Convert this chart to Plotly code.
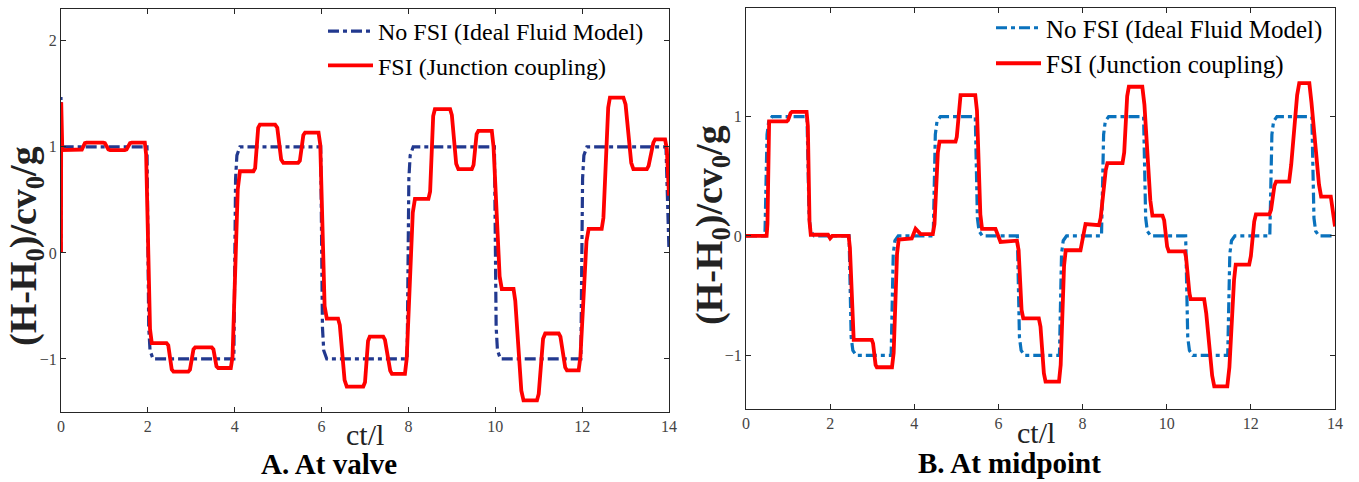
import plotly.graph_objects as go

# ---------------- data ----------------
# Panel A: at valve
valve_ideal_t = [0, 0, 0.01,
                 1.98, 2.02, 2.05, 2.12, 3.98, 4.02, 4.05, 4.12,
                 5.98, 6.02, 6.05, 6.12, 7.97, 8.01, 8.04, 8.11,
                 9.98, 10.02, 10.05, 10.12, 11.97, 12.01, 12.04, 12.11,
                 13.93, 14.0]
valve_ideal_h = [0, 1.47, 1.0,
                 1, -0.7, -0.92, -1, -1, 0.7, 0.92, 1,
                 1, -0.7, -0.92, -1, -1, 0.7, 0.92, 1,
                 1, -0.7, -0.92, -1, -1, 0.7, 0.92, 1,
                 1, 0.02]

valve_fsi_t = [0, 0.005, 0.03,
               0.44, 0.48, 0.55, 0.59, 0.97, 1.01, 1.09, 1.13,
               1.47, 1.51, 1.59, 1.63, 1.93, 1.96, 2.05, 2.09,
               2.43, 2.47, 2.55, 2.59, 2.93, 2.97, 3.05, 3.09,
               3.47, 3.51, 3.58, 3.62, 3.91, 3.95, 4.07, 4.12,
               4.43, 4.47, 4.54, 4.58, 4.93, 4.98, 5.07, 5.12,
               5.46, 5.50, 5.58, 5.62, 5.93, 5.97, 6.07, 6.12,
               6.38, 6.42, 6.53, 6.58, 6.96, 7.00, 7.07, 7.11,
               7.42, 7.46, 7.58, 7.62, 7.92, 7.96, 8.10, 8.15,
               8.46, 8.50, 8.57, 8.61, 8.96, 9.00, 9.10, 9.15,
               9.46, 9.50, 9.57, 9.61, 9.92, 9.96, 10.10, 10.15,
               10.42, 10.46, 10.60, 10.65, 10.96, 11.00, 11.10, 11.15,
               11.46, 11.50, 11.61, 11.65, 11.92, 11.96, 12.10, 12.15,
               12.45, 12.49, 12.60, 12.64, 12.95, 13.00, 13.13, 13.18,
               13.49, 13.53, 13.64, 13.68, 13.91, 13.95, 14.0]
valve_fsi_h = [0, 1.42, 0.97,
               0.97, 0.975, 1.035, 1.04, 1.04, 1.035, 0.975, 0.97,
               0.97, 0.975, 1.035, 1.04, 1.04, 0.93, -0.72, -0.85,
               -0.85, -0.87, -1.10, -1.12, -1.12, -1.10, -0.91, -0.89,
               -0.89, -0.91, -1.07, -1.085, -1.085, -0.98, 0.60, 0.77,
               0.77, 0.80, 1.18, 1.21, 1.21, 1.18, 0.88, 0.85,
               0.85, 0.87, 1.11, 1.135, 1.135, 1.02, -0.50, -0.62,
               -0.62, -0.68, -1.20, -1.26, -1.26, -1.22, -0.83, -0.79,
               -0.79, -0.82, -1.11, -1.14, -1.14, -1.00, 0.38, 0.51,
               0.51, 0.58, 1.29, 1.355, 1.355, 1.30, 0.84, 0.79,
               0.79, 0.83, 1.12, 1.15, 1.15, 1.00, -0.22, -0.34,
               -0.34, -0.45, -1.30, -1.39, -1.39, -1.33, -0.81, -0.76,
               -0.76, -0.79, -1.08, -1.107, -1.107, -0.98, 0.11, 0.226,
               0.226, 0.33, 1.37, 1.465, 1.465, 1.40, 0.85, 0.79,
               0.79, 0.82, 1.04, 1.07, 1.07, 0.98, 0.54]

# Panel B: at midpoint
mid_ideal_t = [0,
               0.45, 0.50, 0.54, 0.62, 1.45, 1.50, 1.54, 1.62,
               2.45, 2.50, 2.54, 2.62, 3.45, 3.50, 3.54, 3.62,
               4.45, 4.50, 4.54, 4.62, 5.45, 5.50, 5.54, 5.62,
               6.45, 6.50, 6.54, 6.62, 7.45, 7.50, 7.54, 7.62,
               8.45, 8.50, 8.54, 8.62, 9.45, 9.50, 9.54, 9.62,
               10.45, 10.50, 10.54, 10.62, 11.45, 11.50, 11.54, 11.62,
               12.45, 12.50, 12.54, 12.62, 13.45, 13.50, 13.54, 13.62,
               14.0]
mid_ideal_h = [0,
               0, 0.85, 0.96, 1, 1, 0.15, 0.04, 0,
               0, -0.85, -0.96, -1, -1, -0.15, -0.04, 0,
               0, 0.85, 0.96, 1, 1, 0.15, 0.04, 0,
               0, -0.85, -0.96, -1, -1, -0.15, -0.04, 0,
               0, 0.85, 0.96, 1, 1, 0.15, 0.04, 0,
               0, -0.85, -0.96, -1, -1, -0.15, -0.04, 0,
               0, 0.85, 0.96, 1, 1, 0.15, 0.04, 0,
               0]

mid_fsi_t = [0, 0.49, 0.51, 0.53, 0.55,
             0.97, 1.00, 1.06, 1.09, 1.44, 1.47, 1.51, 1.54,
             1.95, 2.00, 2.05, 2.44, 2.47, 2.53, 2.56,
             2.99, 3.02, 3.08, 3.11, 3.47, 3.51, 3.59, 3.63,
             3.94, 4.03, 4.15, 4.44, 4.48, 4.56, 4.60,
             4.98, 5.01, 5.07, 5.10, 5.45, 5.49, 5.57, 5.61,
             5.93, 6.05, 6.44, 6.48, 6.55, 6.59,
             6.96, 7.00, 7.08, 7.12, 7.44, 7.48, 7.56, 7.60,
             7.95, 8.07, 8.39, 8.43, 8.55, 8.59,
             8.95, 8.99, 9.06, 9.10, 9.42, 9.47, 9.61, 9.66,
             9.90, 9.94, 10.01, 10.05, 10.43, 10.46, 10.54, 10.57,
             10.89, 10.94, 11.08, 11.13, 11.44, 11.49, 11.60, 11.64,
             11.96, 12.00, 12.08, 12.12, 12.44, 12.48, 12.56, 12.60,
             12.91, 12.96, 13.10, 13.15, 13.39, 13.44, 13.62, 13.67,
             13.90, 14.0]
mid_fsi_h = [0, 0, 0.10, 0.88, 0.96,
             0.96, 0.97, 1.03, 1.04, 1.04, 0.92, 0.12, 0.01,
             0.01, -0.02, 0.0, 0.0, -0.10, -0.78, -0.87,
             -0.87, -0.90, -1.08, -1.10, -1.10, -0.98, -0.15, -0.03,
             -0.02, 0.06, 0.015, 0.015, 0.10, 0.70, 0.79,
             0.79, 0.83, 1.14, 1.18, 1.18, 1.05, 0.18, 0.06,
             0.06, -0.05, -0.04, -0.12, -0.62, -0.69,
             -0.69, -0.76, -1.15, -1.22, -1.22, -1.08, -0.25, -0.12,
             -0.12, 0.10, 0.09, 0.15, 0.55, 0.61,
             0.61, 0.70, 1.17, 1.25, 1.25, 1.10, 0.30, 0.17,
             0.17, 0.13, -0.09, -0.13, -0.13, -0.18, -0.48, -0.53,
             -0.53, -0.65, -1.17, -1.26, -1.26, -1.10, -0.37, -0.24,
             -0.24, -0.17, 0.12, 0.18, 0.18, 0.22, 0.42, 0.455,
             0.455, 0.60, 1.18, 1.28, 1.28, 1.12, 0.43, 0.33,
             0.33, 0.08]

x_ticks = [0, 2, 4, 6, 8, 10, 12, 14]
y_ticks_valve = [-1, 0, 1, 2]
y_ticks_mid = [-1, 0, 1]

name_ideal = "No FSI (Ideal Fluid Model)"
name_fsi = "FSI (Junction coupling)"
ylabel = "<b>(H-H<sub>0</sub>)/cv<sub>0</sub>/g</b>"
xlabel = "ct/l"
captions = ["<b>A. At valve</b>", "<b>B. At midpoint</b>"]

# ---------------- figure ----------------
W, H = 1359, 482
SERIF = "Liberation Serif, Times New Roman, serif"
RED = "#ff0000"
NAVY = "#22398f"
MBLUE = "#0a72bd"
DASH = "11px,4px,4px,4px"

fig = go.Figure()
fig.add_trace(go.Scatter(x=valve_ideal_t, y=valve_ideal_h, mode="lines", name=name_ideal,
                         line=dict(color=NAVY, width=3.2, dash=DASH),
                         xaxis="x", yaxis="y", legend="legend"))
fig.add_trace(go.Scatter(x=valve_fsi_t, y=valve_fsi_h, mode="lines", name=name_fsi,
                         line=dict(color=RED, width=3.8),
                         xaxis="x", yaxis="y", legend="legend"))
fig.add_trace(go.Scatter(x=mid_ideal_t, y=mid_ideal_h, mode="lines", name=name_ideal,
                         line=dict(color=MBLUE, width=3.2, dash=DASH),
                         xaxis="x2", yaxis="y2", legend="legend2"))
fig.add_trace(go.Scatter(x=mid_fsi_t, y=mid_fsi_h, mode="lines", name=name_fsi,
                         line=dict(color=RED, width=3.8),
                         xaxis="x2", yaxis="y2", legend="legend2"))

axis_common = dict(showline=True, linecolor="#262626", linewidth=1, mirror="ticks",
                   ticks="inside", ticklen=5, tickcolor="#262626", showgrid=False,
                   zeroline=False, automargin=False,
                   tickfont=dict(family=SERIF, size=16, color="#444444"))

fig.update_layout(
    width=W, height=H,
    margin=dict(l=0, r=0, t=0, b=0),
    paper_bgcolor="white", plot_bgcolor="white",
    xaxis=dict(domain=[61 / W, 669 / W], range=[0, 14], tickvals=x_ticks, anchor="y", **axis_common),
    yaxis=dict(domain=[1 - 412 / H, 1 - 9 / H], range=[-1.5, 2.3], tickvals=y_ticks_valve,
               anchor="x", **axis_common),
    xaxis2=dict(domain=[746 / W, 1335 / W], range=[0, 14], tickvals=x_ticks, anchor="y2", **axis_common),
    yaxis2=dict(domain=[1 - 409 / H, 1 - 8 / H], range=[-1.45, 1.91], tickvals=y_ticks_mid,
                anchor="x2", **axis_common),
    legend=dict(x=323 / W, y=1 - 9 / H, xanchor="left", yanchor="top", itemwidth=45,
                bgcolor="rgba(0,0,0,0)", borderwidth=0, tracegroupgap=0,
                font=dict(family=SERIF, size=24, color="black")),
    legend2=dict(x=991 / W, y=1 - 5 / H, xanchor="left", yanchor="top", itemwidth=45,
                 bgcolor="rgba(0,0,0,0)", borderwidth=0, tracegroupgap=0,
                 font=dict(family=SERIF, size=25, color="black")),
    showlegend=True,
)

ann = []
for (cx, cy) in [(26, 246), (712, 225)]:
    ann.append(dict(x=cx / W, y=1 - cy / H, xref="paper", yref="paper", text=ylabel,
                    textangle=-90, showarrow=False, xanchor="center", yanchor="middle",
                    font=dict(family=SERIF, size=38, color="#222222")))
for (cx, cy) in [(365, 434), (1036, 432)]:
    ann.append(dict(x=cx / W, y=1 - cy / H, xref="paper", yref="paper", text=xlabel,
                    showarrow=False, xanchor="center", yanchor="middle",
                    font=dict(family=SERIF, size=30, color="#222222")))
for (cx, cy), txt in zip([(329, 464), (1009, 463)], captions):
    ann.append(dict(x=cx / W, y=1 - cy / H, xref="paper", yref="paper", text=txt,
                    showarrow=False, xanchor="center", yanchor="middle",
                    font=dict(family=SERIF, size=29, color="black")))
fig.update_layout(annotations=ann)

fig.write_html("out.html")
